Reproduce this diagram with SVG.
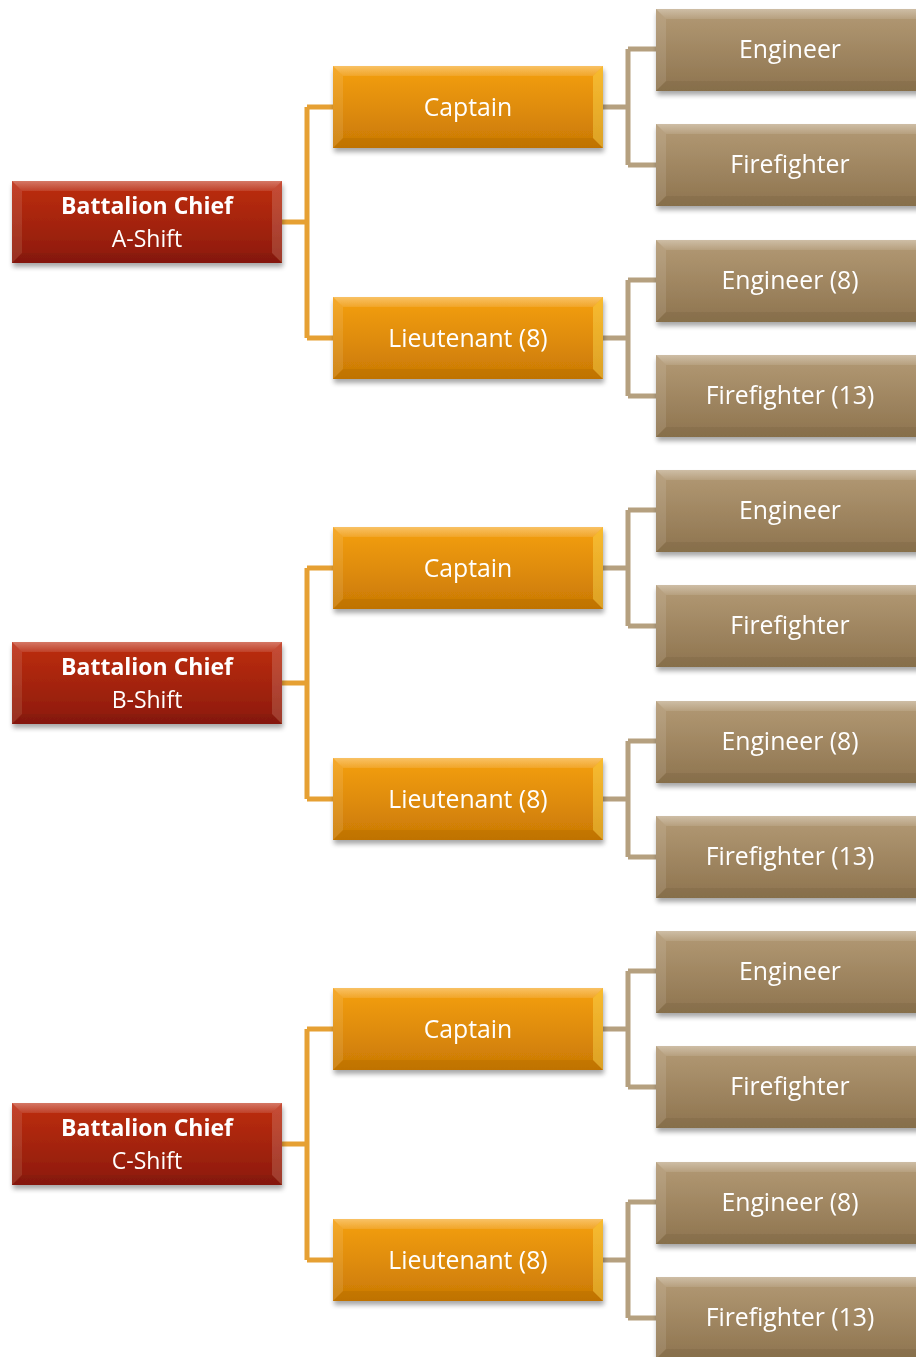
<svg xmlns="http://www.w3.org/2000/svg" xmlns:xlink="http://www.w3.org/1999/xlink" width="916" height="1357" viewBox="0 0 916 1357">
  <style>
    .lbl { font-family: "Open Sans", "Liberation Sans", sans-serif; font-size: 24.8px; fill: #ffffff; text-anchor: middle; }
    .b { font-weight: bold; font-size: 23px; }
    .sub { font-size: 23px; }
    .c-org { fill: none; stroke: #E6A033; stroke-width: 5; }
    .c-tan { fill: none; stroke: #B5A07F; stroke-width: 5; }
    .chief { fill: url(#gRed); }
    .officer { fill: url(#gOrange); }
    .crew { fill: url(#gTan); }
  </style>
  <defs>
    <linearGradient id="gRed" x1="0" y1="0" x2="0" y2="1">
      <stop offset="0" stop-color="#BE2E12"/>
      <stop offset="1" stop-color="#8C1A08"/>
    </linearGradient>
    <linearGradient id="gOrange" x1="0" y1="0" x2="0" y2="1">
      <stop offset="0" stop-color="#F5A012"/>
      <stop offset="1" stop-color="#CA7904"/>
    </linearGradient>
    <linearGradient id="gTan" x1="0" y1="0" x2="0" y2="1">
      <stop offset="0" stop-color="#B39A75"/>
      <stop offset="1" stop-color="#8E744F"/>
    </linearGradient>
    <linearGradient id="gTopBand" x1="0" y1="0" x2="0" y2="1">
      <stop offset="0" stop-color="#ffffff" stop-opacity="0.35"/>
      <stop offset="1" stop-color="#ffffff" stop-opacity="0.1"/>
    </linearGradient>
    <filter id="shadow" x="-10%" y="-20%" width="125%" height="150%">
      <feGaussianBlur in="SourceAlpha" stdDeviation="2.5"/>
      <feOffset dx="1" dy="4" result="o"/>
      <feComponentTransfer><feFuncA type="linear" slope="0.35"/></feComponentTransfer>
      <feMerge><feMergeNode/><feMergeNode in="SourceGraphic"/></feMerge>
    </filter>
    <!-- bevel overlay for a 270x82 box -->
    <g id="bevel">
      <polygon points="0,0 270,0 260,10 10,10" fill="url(#gTopBand)"/>
      <polygon points="0,0 10,10 10,72 0,82" fill="#ffffff" fill-opacity="0.1"/>
      <polygon points="0,82 10,72 260,72 270,82" fill="#000000" fill-opacity="0.05"/>
    </g>
    <g id="chiefBox"><rect width="270" height="82" class="chief"/><use xlink:href="#bevel"/>
      <polygon points="270,0 270,82 260,72 260,10" fill="#ffffff" fill-opacity="0.15"/></g>
    <g id="officerBox"><rect width="270" height="82" class="officer"/><use xlink:href="#bevel"/>
      <polygon points="270,0 270,82 260,72 260,10" fill="#ffee66" fill-opacity="0.35"/></g>
    <g id="crewBox"><rect width="270" height="82" class="crew"/><use xlink:href="#bevel"/></g>
  </defs>

  <rect width="916" height="1357" fill="#ffffff"/>

  <!-- connectors -->
  <g id="connectors">
    <g transform="translate(0,0)">
      <path class="c-org" d="M282 222 H307 M307 107 V338 M307 107 H333 M307 338 H333"/>
      <path class="c-tan" d="M603 107 H628 M628 49 V165 M628 49 H656 M628 165 H656"/>
      <path class="c-tan" d="M603 338 H628 M628 280 V396 M628 280 H656 M628 396 H656"/>
    </g>
    <g transform="translate(0,461)">
      <path class="c-org" d="M282 222 H307 M307 107 V338 M307 107 H333 M307 338 H333"/>
      <path class="c-tan" d="M603 107 H628 M628 49 V165 M628 49 H656 M628 165 H656"/>
      <path class="c-tan" d="M603 338 H628 M628 280 V396 M628 280 H656 M628 396 H656"/>
    </g>
    <g transform="translate(0,922)">
      <path class="c-org" d="M282 222 H307 M307 107 V338 M307 107 H333 M307 338 H333"/>
      <path class="c-tan" d="M603 107 H628 M628 49 V165 M628 49 H656 M628 165 H656"/>
      <path class="c-tan" d="M603 338 H628 M628 280 V396 M628 280 H656 M628 396 H656"/>
    </g>
  </g>

  <!-- A-Shift -->
  <g id="chief-a" filter="url(#shadow)">
    <use xlink:href="#chiefBox" x="12" y="181"/>
    <text class="lbl b" x="147" y="214">Battalion Chief</text>
    <text class="lbl sub" x="147" y="247">A-Shift</text>
  </g>
  <g id="captain-a" filter="url(#shadow)">
    <use xlink:href="#officerBox" x="333" y="66"/>
    <text class="lbl" x="468" y="116">Captain</text>
  </g>
  <g id="lieutenant-a" filter="url(#shadow)">
    <use xlink:href="#officerBox" x="333" y="297"/>
    <text class="lbl" x="468" y="347">Lieutenant (8)</text>
  </g>
  <g id="engineer-a1" filter="url(#shadow)">
    <use xlink:href="#crewBox" x="656" y="9"/>
    <text class="lbl" x="790" y="58">Engineer</text>
  </g>
  <g id="firefighter-a1" filter="url(#shadow)">
    <use xlink:href="#crewBox" x="656" y="124"/>
    <text class="lbl" x="790" y="173">Firefighter</text>
  </g>
  <g id="engineer-a2" filter="url(#shadow)">
    <use xlink:href="#crewBox" x="656" y="240"/>
    <text class="lbl" x="790" y="289">Engineer (8)</text>
  </g>
  <g id="firefighter-a2" filter="url(#shadow)">
    <use xlink:href="#crewBox" x="656" y="355"/>
    <text class="lbl" x="790" y="404">Firefighter (13)</text>
  </g>

  <!-- B-Shift -->
  <g id="chief-b" filter="url(#shadow)">
    <use xlink:href="#chiefBox" x="12" y="642"/>
    <text class="lbl b" x="147" y="675">Battalion Chief</text>
    <text class="lbl sub" x="147" y="708">B-Shift</text>
  </g>
  <g id="captain-b" filter="url(#shadow)">
    <use xlink:href="#officerBox" x="333" y="527"/>
    <text class="lbl" x="468" y="577">Captain</text>
  </g>
  <g id="lieutenant-b" filter="url(#shadow)">
    <use xlink:href="#officerBox" x="333" y="758"/>
    <text class="lbl" x="468" y="808">Lieutenant (8)</text>
  </g>
  <g id="engineer-b1" filter="url(#shadow)">
    <use xlink:href="#crewBox" x="656" y="470"/>
    <text class="lbl" x="790" y="519">Engineer</text>
  </g>
  <g id="firefighter-b1" filter="url(#shadow)">
    <use xlink:href="#crewBox" x="656" y="585"/>
    <text class="lbl" x="790" y="634">Firefighter</text>
  </g>
  <g id="engineer-b2" filter="url(#shadow)">
    <use xlink:href="#crewBox" x="656" y="701"/>
    <text class="lbl" x="790" y="750">Engineer (8)</text>
  </g>
  <g id="firefighter-b2" filter="url(#shadow)">
    <use xlink:href="#crewBox" x="656" y="816"/>
    <text class="lbl" x="790" y="865">Firefighter (13)</text>
  </g>

  <!-- C-Shift -->
  <g id="chief-c" filter="url(#shadow)">
    <use xlink:href="#chiefBox" x="12" y="1103"/>
    <text class="lbl b" x="147" y="1136">Battalion Chief</text>
    <text class="lbl sub" x="147" y="1169">C-Shift</text>
  </g>
  <g id="captain-c" filter="url(#shadow)">
    <use xlink:href="#officerBox" x="333" y="988"/>
    <text class="lbl" x="468" y="1038">Captain</text>
  </g>
  <g id="lieutenant-c" filter="url(#shadow)">
    <use xlink:href="#officerBox" x="333" y="1219"/>
    <text class="lbl" x="468" y="1269">Lieutenant (8)</text>
  </g>
  <g id="engineer-c1" filter="url(#shadow)">
    <use xlink:href="#crewBox" x="656" y="931"/>
    <text class="lbl" x="790" y="980">Engineer</text>
  </g>
  <g id="firefighter-c1" filter="url(#shadow)">
    <use xlink:href="#crewBox" x="656" y="1046"/>
    <text class="lbl" x="790" y="1095">Firefighter</text>
  </g>
  <g id="engineer-c2" filter="url(#shadow)">
    <use xlink:href="#crewBox" x="656" y="1162"/>
    <text class="lbl" x="790" y="1211">Engineer (8)</text>
  </g>
  <g id="firefighter-c2" filter="url(#shadow)">
    <use xlink:href="#crewBox" x="656" y="1277"/>
    <text class="lbl" x="790" y="1326">Firefighter (13)</text>
  </g>
</svg>
